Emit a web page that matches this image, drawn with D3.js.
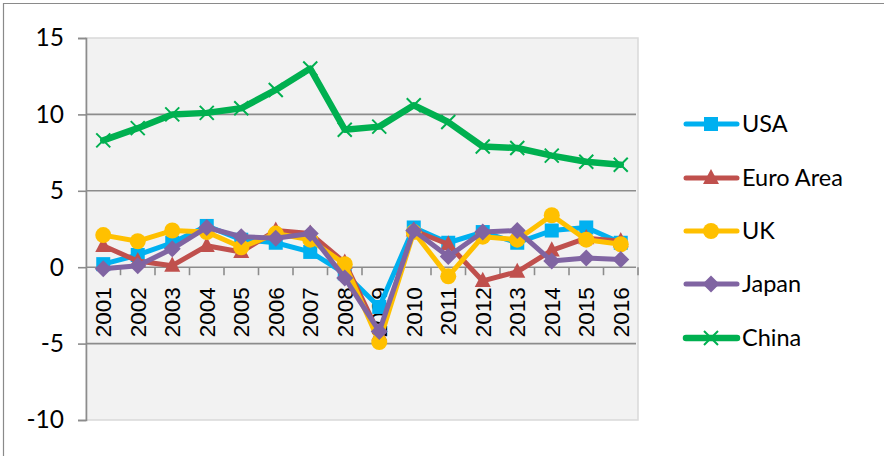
<!DOCTYPE html>
<html><head><meta charset="utf-8">
<script src="https://cdn.jsdelivr.net/npm/d3@7/dist/d3.min.js"></script>
<style>
html,body{margin:0;padding:0;background:#fff;}
svg{display:block;}
</style></head>
<body><svg id="chart" width="884" height="456"></svg>
<script>
const years = ["2001","2002","2003","2004","2005","2006","2007","2008","2009","2010","2011","2012","2013","2014","2015","2016"];
const yTicks = [-10,-5,0,5,10,15];
const usa     = [0.2, 0.8, 1.6, 2.7, 1.8, 1.6, 1.0, -0.4, -2.6, 2.6, 1.6, 2.3, 1.6, 2.4, 2.6, 1.6];
const euro    = [1.4, 0.4, 0.1, 1.4, 1.0, 2.4, 2.2, 0.3, -4.4, 2.4, 1.5, -0.9, -0.3, 1.1, 1.9, 1.7];
const uk      = [2.1, 1.7, 2.4, 2.3, 1.3, 2.2, 1.8, 0.2, -4.9, 2.3, -0.6, 2.0, 1.8, 3.4, 1.8, 1.5];
const japan   = [-0.1, 0.1, 1.2, 2.6, 2.0, 1.9, 2.2, -0.7, -4.2, 2.4, 0.7, 2.3, 2.4, 0.4, 0.6, 0.5];
const china   = [8.3, 9.1, 10.0, 10.1, 10.4, 11.6, 13.0, 9.0, 9.2, 10.6, 9.5, 7.9, 7.8, 7.3, 6.9, 6.7];
const seriesNames = ["USA","Euro Area","UK","Japan","China"];

const series = [
  {name: seriesNames[0], values: usa,   color: "#00B0F0", marker: "square"},
  {name: seriesNames[1], values: euro,  color: "#C0504D", marker: "triangle"},
  {name: seriesNames[2], values: uk,    color: "#FFC000", marker: "circle"},
  {name: seriesNames[3], values: japan, color: "#8064A2", marker: "diamond"},
  {name: seriesNames[4], values: china, color: "#00B050", marker: "cross"}
];

const svg = d3.select("#chart");
const L = 86, R = 638, T = 38, B = 420;

// outer border
svg.append("path").attr("d","M3.5,460 L3.5,3.5 L890,3.5").attr("fill","none").attr("stroke","#8a8a8a").attr("stroke-width",1.2);

const x = d3.scaleBand().domain(years).range([L, R]);
const y = d3.scaleLinear().domain([-10, 15]).range([B, T]);

// plot background
svg.append("rect").attr("x", L).attr("y", T).attr("width", R - L).attr("height", B - T)
  .attr("fill", "#F2F2F2").attr("stroke", "#d9d9d9").attr("stroke-width", 1.5);

// gridlines
svg.append("g").selectAll("line").data(yTicks.filter(d => d > -10 && d < 15)).join("line")
  .attr("x1", L).attr("x2", R - 2).attr("y1", d => y(d)).attr("y2", d => y(d))
  .attr("stroke", "#8c8c8c").attr("stroke-width", 1.6);

// y axis
const yAxis = d3.axisLeft(y).tickValues(yTicks).tickSize(8).tickPadding(14).tickFormat(d => String(d));
const gy = svg.append("g").attr("transform", `translate(${L},0)`).call(yAxis);
gy.select(".domain").attr("stroke", "#8c8c8c").attr("stroke-width", 1.6);
gy.selectAll(".tick line").attr("stroke", "#8c8c8c").attr("stroke-width", 1.6);
gy.selectAll("text").attr("font-family", "Lato, 'Open Sans', sans-serif").attr("font-size", 24.5).attr("fill", "#000");

// x axis at 0
const xAxis = d3.axisBottom(x).tickSize(0).tickPadding(0);
const gx = svg.append("g").attr("transform", `translate(0,${y(0)})`).call(xAxis);
gx.select(".domain").remove();
gx.selectAll("text")
  .attr("font-family", "'Liberation Sans', Arial, sans-serif").attr("font-size", 22.5).attr("fill", "#000")
  .attr("text-anchor", "end").attr("dy", "0.35em")
  .attr("transform", "translate(0,20) rotate(-90)").attr("x", 0).attr("y", 0);
// category boundary ticks
const bounds = years.map(d => x(d)).concat([R]);
svg.append("g").selectAll("line").data(bounds.slice(1)).join("line")
  .attr("x1", d => d).attr("x2", d => d).attr("y1", y(0)).attr("y2", y(0) + 8)
  .attr("stroke", "#8c8c8c").attr("stroke-width", 1.6);

const cx = i => x(years[i]) + x.bandwidth() / 2;

function drawMarker(g, type, color, px, py, s) {
  if (type === "square") {
    g.append("rect").attr("x", px - s/2).attr("y", py - s/2).attr("width", s).attr("height", s).attr("fill", color);
  } else if (type === "triangle") {
    const h = s * 0.95;
    g.append("path").attr("d", `M${px},${py - h*0.6} L${px + s/2},${py + h*0.4} L${px - s/2},${py + h*0.4} Z`).attr("fill", color);
  } else if (type === "circle") {
    g.append("circle").attr("cx", px).attr("cy", py).attr("r", s/2).attr("fill", color);
  } else if (type === "diamond") {
    const r = s/2;
    g.append("path").attr("d", `M${px},${py - r} L${px + r},${py} L${px},${py + r} L${px - r},${py} Z`).attr("fill", color);
  } else if (type === "cross") {
    const r = s/2;
    g.append("path").attr("d", `M${px - r},${py - r} L${px + r},${py + r} M${px - r},${py + r} L${px + r},${py - r}`)
      .attr("stroke", color).attr("stroke-width", 2).attr("fill", "none");
  }
}
const markerSize = {square: 14, triangle: 16, circle: 16, diamond: 17, cross: 14};

const line = d3.line().x((d, i) => cx(i)).y(d => y(d));
series.forEach(s => {
  const g = svg.append("g");
  g.append("path").datum(s.values).attr("d", line).attr("fill", "none")
    .attr("stroke", s.color).attr("stroke-width", s.marker === "cross" ? 6.5 : 5)
    .attr("stroke-linejoin", "round").attr("stroke-linecap", "round");
  s.values.forEach((v, i) => drawMarker(g, s.marker, s.color, cx(i), y(v), markerSize[s.marker]));
});

// legend
const legY = [124, 178, 231, 284, 338];
const lg = svg.append("g");
series.forEach((s, i) => {
  const yy = legY[i];
  lg.append("line").attr("x1", 686).attr("x2", 737).attr("y1", yy).attr("y2", yy)
    .attr("stroke", s.color).attr("stroke-width", s.marker === "cross" ? 6.5 : 5).attr("stroke-linecap", "round");
  drawMarker(lg, s.marker, s.color, 711, yy, markerSize[s.marker]);
  lg.append("text").attr("x", 742).attr("y", yy).attr("dy", "0.35em")
    .attr("font-family", "Lato, 'Open Sans', sans-serif").attr("font-size", 23.5).attr("fill", "#000")
    .text(s.name);
});
</script></body></html>
